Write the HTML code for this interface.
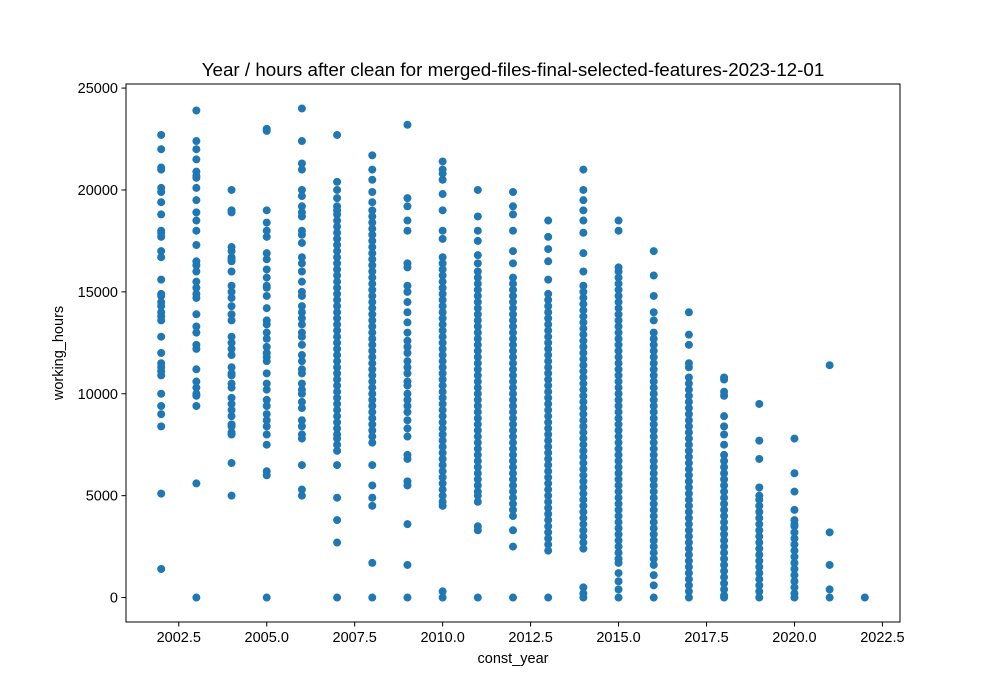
<!DOCTYPE html>
<html><head><meta charset="utf-8"><style>
html,body{margin:0;padding:0;background:#fff;}
svg{display:block;font-family:"Liberation Sans","DejaVu Sans",sans-serif;}
</style></head><body>
<svg id="chart" width="1000" height="700">
<text x="513" y="76" font-size="18.8" text-anchor="middle">Year / hours after clean for merged-files-final-selected-features-2023-12-01</text>
<g id="ticks"></g>
<g id="points"></g>
<rect x="126" y="84" width="774" height="538" fill="none" stroke="#000" stroke-width="1"/>
<text x="513" y="663" font-size="14.5" text-anchor="middle">const_year</text>
<text transform="translate(63,353) rotate(-90)" font-size="14.5" text-anchor="middle">working_hours</text>
</svg>
<script>
const years = [2002,2003,2004,2005,2006,2007,2008,2009,2010,2011,2012,2013,2014,2015,2016,2017,2018,2019,2020,2021,2022];
const hours2002 = [22700,22000,21100,21000,20100,19900,19400,18800,18000,17900,17700,17000,16700,15600,14900,14800,14500,14300,14000,13800,13600,12800,12000,11500,11300,11100,10900,10000,9400,9000,8400,5100,1400];
const hours2003 = [23900,22400,22000,21500,20900,20700,20600,20100,19500,18900,18500,18000,17300,16500,16300,16000,15500,15200,14900,14700,13900,13300,13000,12400,12200,11200,10600,10300,10000,9900,9400,5600,0];
const hours2004 = [20000,19000,18900,17200,17000,16700,16600,16500,16000,15300,15000,14700,14300,13900,13600,12800,12500,12200,11900,11300,11000,10900,10500,10300,9800,9500,9200,8900,8500,8400,8100,8000,6600,5000];
const hours2005 = [23000,22900,19000,18400,18000,17700,16900,16600,16100,15700,15300,15200,14800,14200,13600,13400,13000,12700,12300,12000,11800,11600,11000,10500,10200,9700,9400,9000,8700,8400,8000,7500,6200,6000,0];
const hours2006 = [24000,22400,21300,21000,20000,19700,19200,18900,18700,18000,17800,17400,16700,16400,16000,15500,15000,14800,14300,14000,13700,13400,13000,12800,12400,11900,11600,11200,11000,10500,10200,10000,9600,9300,8700,8400,8000,7800,6500,5300,5000];
const hours2007 = [22700,20400,20000,19600,19200,19000,18800,18500,18200,17900,17600,17300,17000,16700,16400,16100,15800,15500,15200,14900,14600,14300,14000,13700,13400,13100,12800,12500,12200,11900,11600,11300,11000,10700,10400,10100,9800,9500,9200,8900,8600,8300,8000,7800,7500,7200,6500,4900,3800,2700,0];
const hours2008 = [21700,21000,20500,19900,19400,19000,18700,18400,18100,17800,17500,17200,16900,16600,16300,16000,15700,15400,15100,14800,14500,14200,13900,13600,13300,13000,12700,12400,12100,11800,11500,11200,10900,10600,10300,10000,9700,9400,9100,8800,8500,8200,7900,7600,6500,5500,4900,4500,1700,0];
const hours2009 = [23200,19600,19200,18500,18000,16400,16200,15300,15000,14500,14000,13500,13000,12600,12300,12000,11600,11300,11000,10600,10400,10000,9700,9400,9100,8700,8300,7900,7000,6800,5700,5500,3600,1600,0];
const hours2010 = [21400,21000,20800,20500,19800,19000,18000,17600,16700,16400,16100,15800,15500,15200,14900,14600,14300,14000,13700,13400,13100,12800,12500,12200,11900,11600,11300,11000,10700,10400,10100,9800,9500,9200,8900,8600,8300,8000,7700,7400,7100,6800,6500,6200,5900,5600,5300,5000,4700,4500,300,0];
const hours2011 = [20000,18700,18000,17500,16800,16400,16000,15700,15400,15100,14800,14500,14200,13900,13600,13300,13000,12700,12400,12100,11800,11500,11200,10900,10600,10300,10000,9700,9400,9100,8800,8500,8200,7900,7600,7300,7000,6700,6400,6100,5800,5500,5200,5000,4700,3500,3300,0];
const hours2012 = [19900,19200,18800,18000,17000,16400,15700,15400,15100,14800,14500,14200,13900,13600,13300,13000,12700,12400,12100,11800,11500,11200,10900,10600,10300,10000,9700,9400,9100,8800,8500,8200,7900,7600,7300,7000,6700,6400,6100,5800,5500,5200,4900,4600,4300,4000,3300,2500,0];
const hours2013 = [18500,17700,17100,16500,15600,14900,14600,14300,14000,13700,13400,13100,12800,12500,12200,11900,11600,11300,11000,10700,10400,10100,9800,9500,9200,8900,8600,8300,8000,7700,7400,7100,6800,6500,6200,5900,5600,5300,5000,4700,4400,4100,3800,3500,3200,2900,2600,2300,0];
const hours2014 = [21000,20000,19500,19000,18500,17900,16900,16000,15300,15000,14700,14400,14100,13800,13500,13200,12900,12600,12300,12000,11700,11400,11100,10800,10500,10200,9900,9600,9300,9000,8700,8400,8100,7800,7500,7200,6900,6600,6300,6000,5700,5400,5100,4800,4500,4200,3900,3600,3300,3000,2700,2400,500,200,0];
const hours2015 = [18500,18000,16200,16000,15700,15400,15100,14800,14500,14200,13900,13600,13300,13000,12700,12400,12100,11800,11500,11200,10900,10600,10300,10000,9700,9400,9100,8800,8500,8200,7900,7600,7300,7000,6700,6400,6100,5800,5500,5200,4900,4600,4300,4000,3700,3400,3100,2800,2500,2200,1900,1700,1200,800,400,0];
const hours2016 = [17000,15800,14800,14000,13600,13000,12700,12400,12100,11800,11500,11200,10900,10600,10300,10000,9700,9400,9100,8800,8500,8200,7900,7600,7300,7000,6700,6400,6100,5800,5500,5200,4900,4600,4300,4000,3700,3400,3100,2800,2500,2200,1900,1600,1100,600,0];
const hours2017 = [14000,12900,12400,11500,11300,10800,10500,10200,9900,9600,9300,9000,8700,8400,8100,7800,7500,7200,6900,6600,6300,6000,5700,5400,5100,4800,4500,4200,3900,3600,3300,3000,2700,2400,2100,1800,1500,1200,900,600,300,0];
const hours2018 = [10800,10700,10100,9900,8900,8400,8000,7500,7000,6700,6400,6100,5800,5500,5200,4900,4600,4300,4000,3700,3400,3100,2800,2500,2200,1900,1600,1300,1000,700,400,100,0];
const hours2019 = [9500,7700,6800,5400,5000,4800,4500,4200,3900,3600,3300,3000,2700,2400,2100,1800,1500,1200,900,600,300,0];
const hours2020 = [7800,6100,5200,4300,3800,3600,3500,3200,2900,2600,2300,2000,1700,1400,1100,800,500,200,0];
const hours2021 = [11400,3200,1600,400,0];
const hours2022 = [0];
const seriesHours = [hours2002,hours2003,hours2004,hours2005,hours2006,hours2007,hours2008,hours2009,hours2010,hours2011,hours2012,hours2013,hours2014,hours2015,hours2016,hours2017,hours2018,hours2019,hours2020,hours2021,hours2022];
const xTickValues = [2002.5,2005,2007.5,2010,2012.5,2015,2017.5,2020,2022.5];
const yTickValues = [0,5000,10000,15000,20000,25000];

const NS = "http://www.w3.org/2000/svg";
const L=126,R=900,T=84,B=622;
const xMin=2001,xMax=2023,yMin=-1200,yMax=25200;
function xs(v){return L+(v-xMin)/(xMax-xMin)*(R-L);}
function ys(v){return B-(v-yMin)/(yMax-yMin)*(B-T);}

const tg=document.getElementById('ticks');
xTickValues.forEach(v=>{
  const x=xs(v);
  const ln=document.createElementNS(NS,'line');
  ln.setAttribute('x1',x);ln.setAttribute('x2',x);ln.setAttribute('y1',B);ln.setAttribute('y2',B+4.5);
  ln.setAttribute('stroke','#000');
  
  
  tg.appendChild(ln);
  const t=document.createElementNS(NS,'text');
  t.setAttribute('x',x);t.setAttribute('y',B+20);t.setAttribute('font-size','14.5');t.setAttribute('text-anchor','middle');
  t.textContent=v.toFixed(1);
  
  
  tg.appendChild(t);
});
yTickValues.forEach(v=>{
  const y=ys(v);
  const ln=document.createElementNS(NS,'line');
  ln.setAttribute('x1',L-4.5);ln.setAttribute('x2',L);ln.setAttribute('y1',y);ln.setAttribute('y2',y);
  ln.setAttribute('stroke','#000');
  
  
  tg.appendChild(ln);
  const t=document.createElementNS(NS,'text');
  t.setAttribute('x',L-8);t.setAttribute('y',y+5);t.setAttribute('font-size','14.5');t.setAttribute('text-anchor','end');
  t.textContent=String(v);
  
  
  tg.appendChild(t);
});

const pg=document.getElementById('points');
years.forEach((yr,i)=>{
  seriesHours[i].forEach(h=>{
    const c=document.createElementNS(NS,'circle');
    c.setAttribute('cx',xs(yr));c.setAttribute('cy',ys(h));c.setAttribute('r','4');
    c.setAttribute('fill','#1f77b4');
    
    
    pg.appendChild(c);
  });
});
</script>
</body></html>
